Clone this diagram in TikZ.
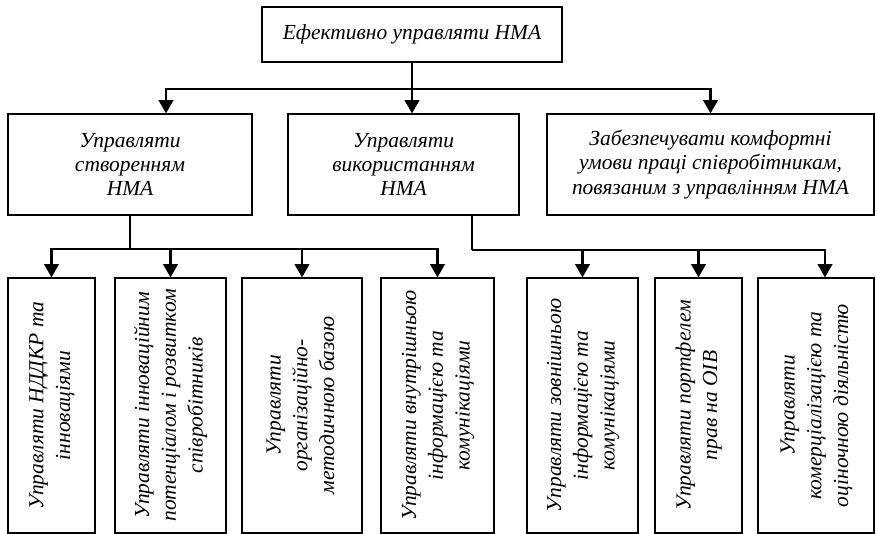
\documentclass[tikz,border=0pt]{standalone}
\usepackage{fontspec}
\setmainfont{Liberation Serif}
\usepackage{graphicx}
\usetikzlibrary{arrows.meta,positioning,calc}
\tikzset{
goal/.style={
  draw=black, line width=0.9pt, align=center, inner sep=2pt,
  font=\fontsize{16.1}{18.3}\selectfont\itshape
  },
midbox/.style={goal, minimum height=75.75pt},
leaf/.style={goal, minimum height=191.25pt,
  font=\fontsize{16.1}{20}\selectfont\itshape},
link/.style={->, line width=1.6pt},
thinlink/.style={line width=0.9pt}
}
\newcommand{\vtext}[1]{\rotatebox{90}{\begin{tabular}{@{}c@{}}#1\end{tabular}}}

\begin{document}
\begin{tikzpicture}[x=0.75pt,y=-0.75pt,>={Triangle[length=10pt,width=11pt]}]
\useasboundingbox (0,0) rectangle (876,534);

\node[goal, minimum width=225pt, minimum height=41.25pt] (top) at (412,34.5)
  {Ефективно управляти НМА};

\node[midbox, minimum width=183pt] (mA) at (130,164.5)
  {Управляти\\створенням\\НМА};
\node[midbox, minimum width=173.25pt] (mB) at (403.5,164.5)
  {Управляти\\використанням\\НМА};
\node[midbox, minimum width=245.25pt] (mC) at (710.5,164.5)
  {Забезпечувати комфортні\\умови праці співробітникам,\\повязаним з управлінням НМА};

\node[leaf, minimum width=65.25pt] (b1) at (51.5,405.5)
  {\vtext{Управляти НДДКР та\\інноваціями}};
\node[leaf, minimum width=83.25pt] (b2) at (170.5,405.5)
  {\vtext{Управляти інноваційним\\потенціалом і розвитком\\співробітників}};
\node[leaf, minimum width=90pt] (b3) at (302,405.5)
  {\vtext{Управляти\\організаційно-\\методичною базою}};
\node[leaf, minimum width=84.75pt] (b4) at (437.5,405.5)
  {\vtext{Управляти внутрішньою\\інформацією та\\комунікаціями}};
\node[leaf, minimum width=83.25pt] (b5) at (582.5,405.5)
  {\vtext{Управляти зовнішньою\\інформацією та\\комунікаціями}};
\node[leaf, minimum width=65.25pt] (b6) at (698.5,405.5)
  {\vtext{Управляти портфелем\\прав на ОІВ}};
\node[leaf, minimum width=87pt] (b7) at (816,405.5)
  {\vtext{Управляти\\комерціалізацією та\\оціночною діяльністю}};

\draw[line width=1.6pt] (top.south) -- ++(0,26) coordinate (jT);
\draw[link] (jT) -| ([xshift=27pt]mA.north);
\draw[link] (jT) -- (jT |- mB.north);
\draw[link] (jT) -| (mC.north);

\draw[thinlink] (mA.south) -- ++(0,33) coordinate (jA);
\foreach \b in {b1,b2,b3,b4}
  \draw[link] (jA) -| (\b.north);

\draw[line width=1.6pt] ([xshift=51.4pt]mB.south) -- ++(0,34) coordinate (jB);
\foreach \b in {b5,b6}
  \draw[link] (jB) -| (\b.north);
\draw[link] (jB) -| ([xshift=6.75pt]b7.north);

\end{tikzpicture}
\end{document}
